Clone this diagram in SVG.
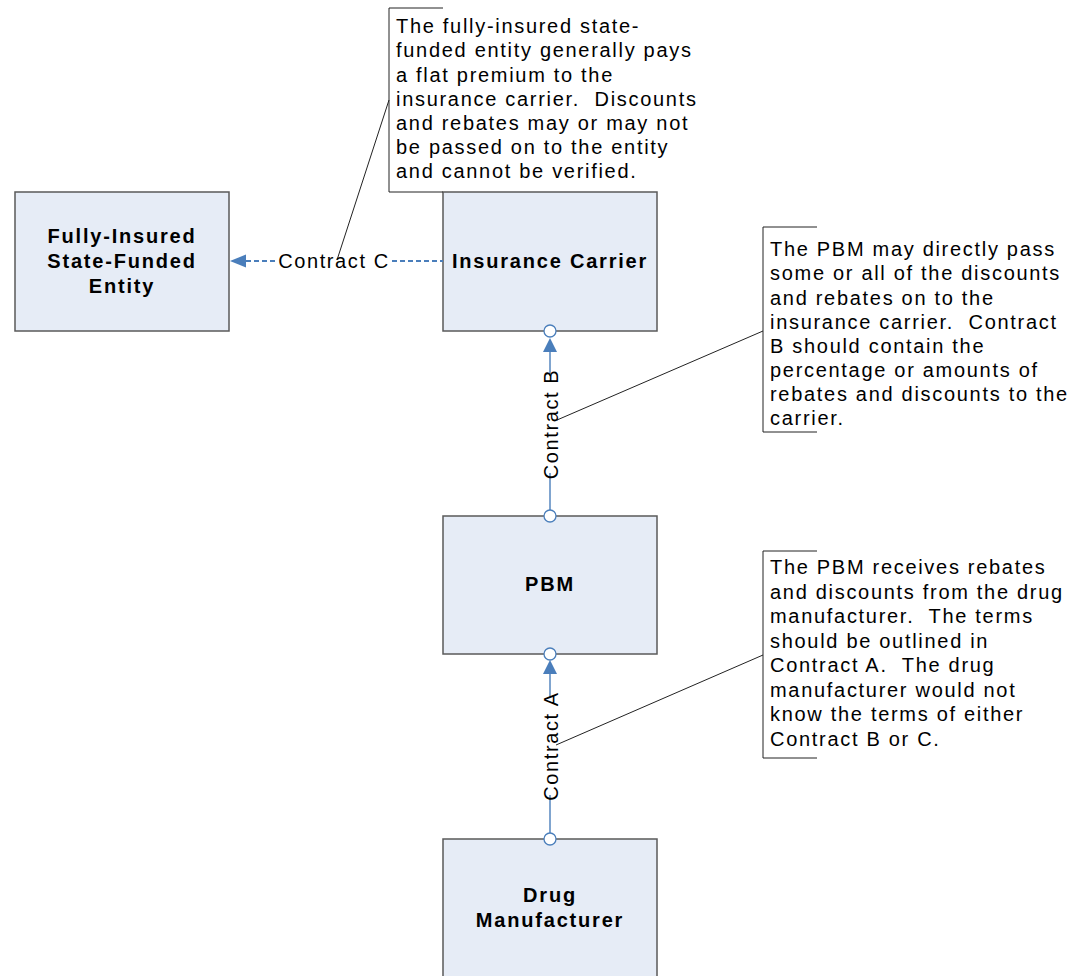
<svg xmlns="http://www.w3.org/2000/svg" width="1085" height="976" viewBox="0 0 1085 976">
<style>
.box{fill:#E6ECF6;stroke:#5A5A5A;stroke-width:1.5}
.lbl{font-family:"Liberation Sans",Arial,sans-serif;font-size:20px;font-weight:bold;letter-spacing:1.8px;fill:#000;text-anchor:middle}
.note{font-family:"Liberation Sans",Arial,sans-serif;font-size:20px;letter-spacing:1.7px;fill:#000;white-space:pre}
.clbl{font-family:"Liberation Sans",Arial,sans-serif;font-size:20px;letter-spacing:1.6px;fill:#000;text-anchor:middle}
.conn{stroke:#4A7EBB;stroke-width:1.4;fill:none}
.dash{stroke:#4A7EBB;stroke-width:1.8;fill:none;stroke-dasharray:5 3}
.arr{fill:#4A7EBB}
.pt{fill:#fff;stroke:#4A7EBB;stroke-width:1.3}
.br{stroke:#222;stroke-width:1;fill:none}
</style>
<rect width="1085" height="976" fill="#fff"/>
<g id="node-fully-insured">
  <rect class="box" x="15" y="192" width="214" height="139"/>
  <text class="lbl" x="122" y="243">Fully-Insured</text>
  <text class="lbl" x="122" y="268">State-Funded</text>
  <text class="lbl" x="122" y="293">Entity</text>
</g>
<g id="node-insurance-carrier">
  <rect class="box" x="443" y="192" width="214" height="139"/>
  <text class="lbl" x="550" y="268">Insurance Carrier</text>
</g>
<g id="node-pbm">
  <rect class="box" x="443" y="516" width="214" height="138"/>
  <text class="lbl" x="550" y="591">PBM</text>
</g>
<g id="node-drug-manufacturer">
  <rect class="box" x="443" y="839" width="214" height="140"/>
  <text class="lbl" x="550" y="902">Drug</text>
  <text class="lbl" x="550" y="927">Manufacturer</text>
</g>
<g id="callout-c">
  <polyline class="br" points="443,8 389,8 389,192 443,192"/>
  <line class="br" x1="389" y1="100" x2="337" y2="260"/>
  <text class="note" x="396" y="33">The fully-insured state-</text>
  <text class="note" x="396" y="57">funded entity generally pays</text>
  <text class="note" x="396" y="81.5">a flat premium to the</text>
  <text class="note" x="396" y="105.5" xml:space="preserve">insurance carrier.  Discounts</text>
  <text class="note" x="396" y="130">and rebates may or may not</text>
  <text class="note" x="396" y="154">be passed on to the entity</text>
  <text class="note" x="396" y="178">and cannot be verified.</text>
</g>
<g id="callout-b">
  <polyline class="br" points="817,227 763,227 763,432 817,432"/>
  <line class="br" x1="763" y1="331" x2="557" y2="420"/>
  <text class="note" x="770" y="256">The PBM may directly pass</text>
  <text class="note" x="770" y="280">some or all of the discounts</text>
  <text class="note" x="770" y="304.5">and rebates on to the</text>
  <text class="note" x="770" y="328.5" xml:space="preserve">insurance carrier.  Contract</text>
  <text class="note" x="770" y="353">B should contain the</text>
  <text class="note" x="770" y="377">percentage or amounts of</text>
  <text class="note" x="770" y="401">rebates and discounts to the</text>
  <text class="note" x="770" y="425">carrier.</text>
</g>
<g id="callout-a">
  <polyline class="br" points="817,551 763,551 763,758 817,758"/>
  <line class="br" x1="763" y1="655" x2="556" y2="745"/>
  <text class="note" x="770" y="574">The PBM receives rebates</text>
  <text class="note" x="770" y="598.5">and discounts from the drug</text>
  <text class="note" x="770" y="623" xml:space="preserve">manufacturer.  The terms</text>
  <text class="note" x="770" y="647.5">should be outlined in</text>
  <text class="note" x="770" y="672" xml:space="preserve">Contract A.  The drug</text>
  <text class="note" x="770" y="696.5">manufacturer would not</text>
  <text class="note" x="770" y="721">know the terms of either</text>
  <text class="note" x="770" y="746">Contract B or C.</text>
</g>
<g id="connectors">
  <line class="dash" x1="246" y1="261" x2="277" y2="261"/>
  <line class="dash" x1="392" y1="261" x2="443" y2="261"/>
  <polygon class="arr" points="230,261 246,254.5 246,267.5"/>
  <text class="clbl" x="334" y="268">Contract C</text>
  <line class="conn" x1="550" y1="351" x2="550" y2="376"/>
  <line class="conn" x1="550" y1="473" x2="550" y2="510"/>
  <polygon class="arr" points="550,338 543,352 557,352"/>
  <circle class="pt" cx="550" cy="331" r="6"/>
  <circle class="pt" cx="550" cy="516" r="6"/>
  <text class="clbl" transform="translate(557.5,424) rotate(-90)">Contract B</text>
  <line class="conn" x1="550" y1="674" x2="550" y2="697"/>
  <line class="conn" x1="550" y1="795" x2="550" y2="833"/>
  <polygon class="arr" points="550,660 543,674 557,674"/>
  <circle class="pt" cx="550" cy="654" r="6"/>
  <circle class="pt" cx="550" cy="839" r="6"/>
  <text class="clbl" transform="translate(557.5,746) rotate(-90)">Contract A</text>
</g>
</svg>
